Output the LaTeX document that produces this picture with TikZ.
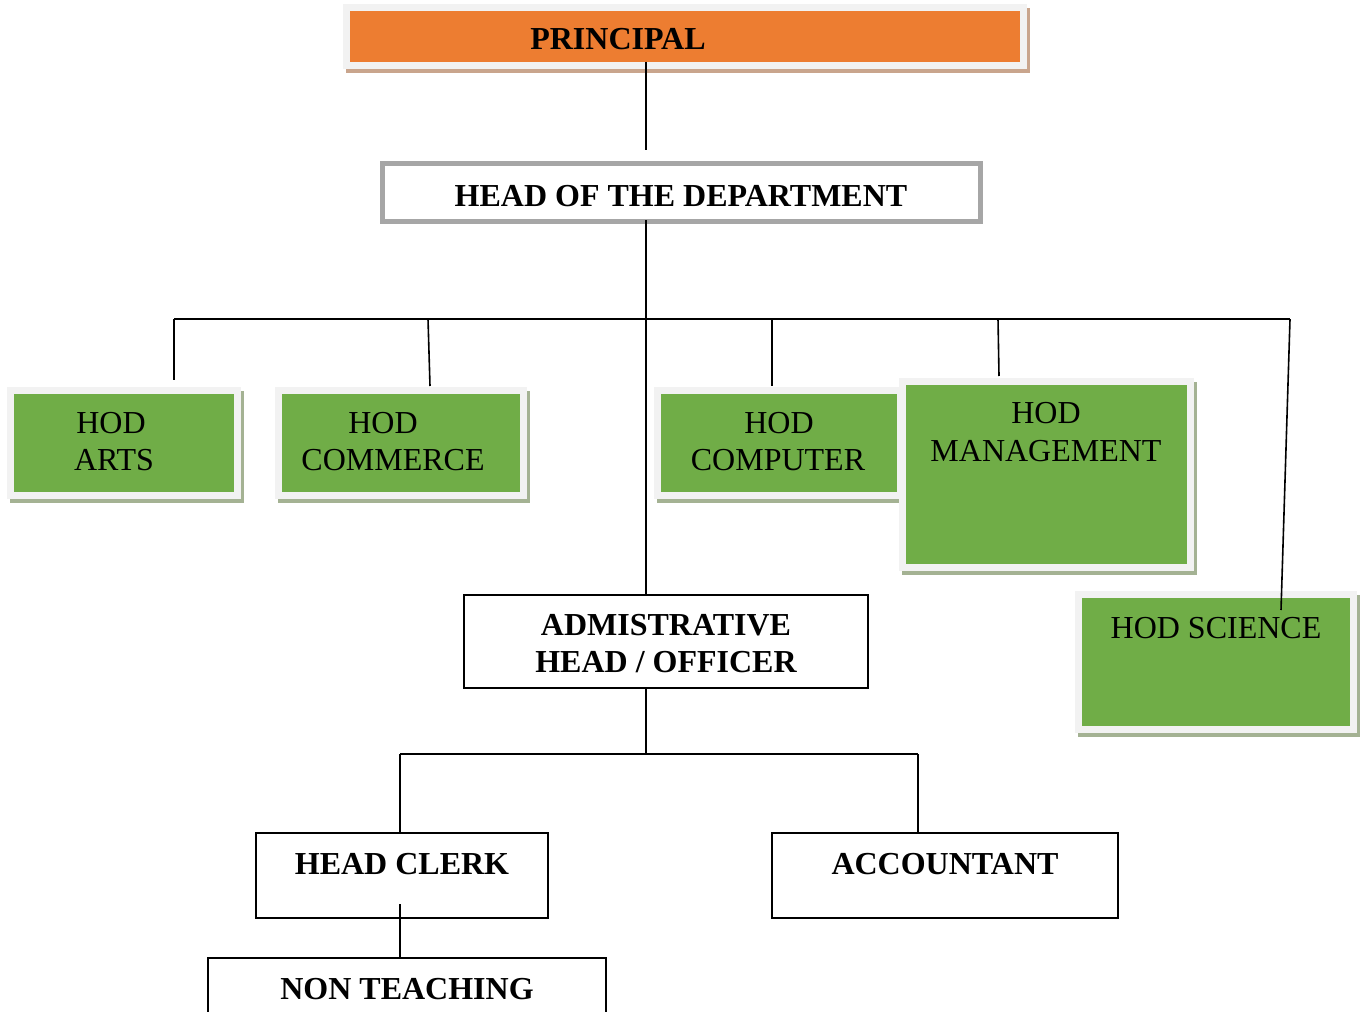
\documentclass[tikz,border=0pt]{standalone}
\usepackage{fontspec}
\setmainfont{Liberation Serif}
\usetikzlibrary{calc,backgrounds}
\definecolor{orangef}{HTML}{ED7D31}
\definecolor{greenf}{HTML}{70AD47}
\definecolor{framec}{HTML}{F2F2F2}
\definecolor{greensh}{HTML}{A4B293}
\definecolor{orsh}{HTML}{C9A58D}
\definecolor{grayb}{HTML}{A6A6A6}
\begin{document}
\begin{tikzpicture}[x=0.5pt,y=-0.5pt,
  framed/.style={draw=framec, line width=3.5pt, inner sep=0pt},
  hodbox/.style={framed, fill=greenf},
  plainbox/.style={draw=black, line width=0.75pt, inner sep=0pt, fill=white},
  link/.style={draw=black, line width=0.8pt},
  txt/.style={font=\fontsize{16}{18}\selectfont, inner sep=0pt, anchor=base},
  btxt/.style={font=\fontsize{16}{18}\selectfont\bfseries, inner sep=0pt, anchor=base}]
\useasboundingbox (0,0) rectangle (1364,1011);
\clip (0,0) rectangle (1364,1011);

% boxes
\node[framed, fill=orangef, minimum width=338.5pt, minimum height=29pt] (principal) at (685,36.5) {};
\node[draw=grayb, line width=2.5pt, fill=white, inner sep=0pt, minimum width=299pt, minimum height=29pt] (hdept) at (681.5,192.5) {};
\node[hodbox, minimum width=113.5pt, minimum height=52.5pt] (arts) at (124,443) {};
\node[hodbox, minimum width=122.5pt, minimum height=52.5pt] (commerce) at (401,443) {};
\node[hodbox, minimum width=121.25pt, minimum height=52.5pt] (computer) at (778.75,443) {};
\node[hodbox, minimum width=144pt, minimum height=93pt] (mgmt) at (1046.5,474.5) {};
\node[hodbox, minimum width=137.5pt, minimum height=67.5pt] (science) at (1216,662) {};
\node[plainbox, minimum width=202pt, minimum height=46.5pt] (admin) at (666,641.5) {};
\node[plainbox, minimum width=146pt, minimum height=42.5pt] (clerk) at (402,875.5) {};
\node[plainbox, minimum width=173pt, minimum height=42.5pt] (accountant) at (945,875.5) {};
\node[plainbox, minimum width=199pt, minimum height=36pt] (nonteach) at (407,994) {};

% shadows
\begin{pgfonlayer}{background}
\foreach \n in {arts,commerce,computer,mgmt,science}
  \fill[greensh] ($(\n.south west)+(3,4)$) rectangle ($(\n.north east)+(3,4)$);
\fill[orsh] ($(principal.south west)+(3,4)$) rectangle ($(principal.north east)+(3,4)$);
\end{pgfonlayer}

% connectors
\coordinate (t1) at (646,150);
\draw[link] ($(principal.south -| t1)+(0,-7)$) -- (t1);
\draw[link] ($(hdept.south -| t1)+(0,-4)$) -- (admin.north -| t1);
\coordinate (b1) at (174,319);
\coordinate (b2) at (428,319);
\coordinate (b4) at (772,319);
\coordinate (b5) at (998,319);
\coordinate (b6) at (1290,319);
\coordinate (e1) at (174,380);
\coordinate (e2) at (430,386);
\coordinate (e4) at (772,386);
\coordinate (e5) at (999,376);
\coordinate (e6) at (1281,610);
\draw[link] (b1) -- (b6);
\draw[link] (b1) -- (e1);
\draw[link] (b2) -- (e2);
\draw[link] (b4) -- (e4);
\draw[link] (b5) -- (e5);
\draw[link] (b6) -- (e6);
\coordinate (c0) at (646,754);
\coordinate (c1) at (400,754);
\coordinate (c2) at (918,754);
\coordinate (c3) at (400,904);
\draw[link] (admin.south -| c0) -- (c0);
\draw[link] (c1) -- (c2);
\draw[link] (c1) -- (clerk.north -| c1);
\draw[link] (c2) -- (accountant.north -| c2);
\draw[link] (c3) -- (nonteach.north -| c3);

% texts
\node[btxt] (tprin) at (618,50) {PRINCIPAL};
\node[btxt] (thd) at (681,206) {HEAD OF THE DEPARTMENT};
\node[txt] (ta1) at (111,433) {HOD};
\node[txt] (ta2) at (114,470) {ARTS};
\node[txt] (tc1) at (383,433) {HOD};
\node[txt] (tc2) at (393,470) {COMMERCE};
\node[txt] (tp1) at (779,433) {HOD};
\node[txt] (tp2) at (778,470) {COMPUTER};
\node[txt] (tm1) at (1046,423) {HOD};
\node[txt] (tm2) at (1046,461) {MANAGEMENT};
\node[txt] (ts1) at (1216,638) {HOD SCIENCE};
\node[btxt] (tad1) at (666,635) {ADMISTRATIVE};
\node[btxt] (tad2) at (666,672) {HEAD / OFFICER};
\node[btxt] (tcl) at (402,874) {HEAD CLERK};
\node[btxt] (tac) at (945,874) {ACCOUNTANT};
\node[btxt] (tnt) at (407,999) {NON TEACHING};
\end{tikzpicture}
\end{document}
